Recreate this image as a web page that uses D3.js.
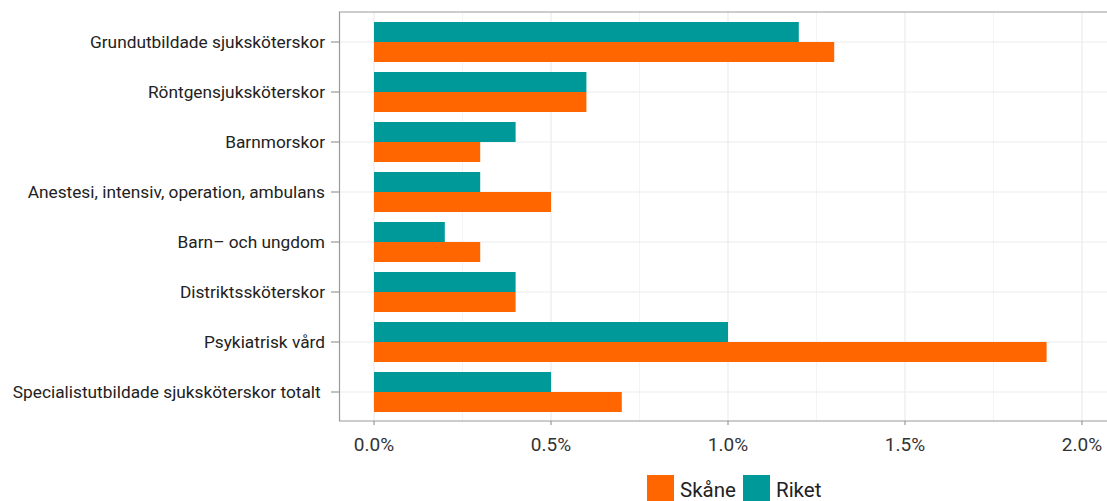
<!DOCTYPE html>
<html><head><meta charset="utf-8">
<script src="https://cdn.jsdelivr.net/npm/d3@7"></script>
<style>body{margin:0;background:#fff;} svg{display:block;}</style>
</head><body><svg id="c" width="1107" height="501"></svg>
<script>
const categories = ["Grundutbildade sjuksköterskor","Röntgensjuksköterskor","Barnmorskor","Anestesi, intensiv, operation, ambulans","Barn– och ungdom","Distriktssköterskor","Psykiatrisk vård","Specialistutbildade sjuksköterskor totalt "];
const skane = [1.3,0.6,0.3,0.5,0.3,0.4,1.9,0.7];
const riket = [1.2,0.6,0.4,0.3,0.2,0.4,1.0,0.5];
const seriesNames = ["Skåne","Riket"];
const xTicks = [0,0.5,1.0,1.5,2.0];
const xMinor = [0.25,0.75,1.25,1.75];
const colors = {"Skåne":"#FF6600","Riket":"#009999"};

(function(){
const svg = d3.select("#c");
const font = "Roboto, 'Liberation Sans', sans-serif";
const pL = 340, pR = 1120, pT = 12, pB = 421;
const x = d3.scaleLinear().domain([0,2]).range([374,1082]);
const yc = d3.scalePoint().domain(categories).range([42,392]);
const bh = 20;

const g = svg.append("g");
g.selectAll(".mv").data(xMinor).enter().append("line")
 .attr("x1",d=>x(d)).attr("x2",d=>x(d)).attr("y1",pT).attr("y2",pB)
 .attr("stroke","#f4f4f4").attr("stroke-width",1);
g.selectAll(".gv").data(xTicks).enter().append("line")
 .attr("x1",d=>x(d)).attr("x2",d=>x(d)).attr("y1",pT).attr("y2",pB)
 .attr("stroke","#ebebeb").attr("stroke-width",1.2);
g.selectAll(".gh").data(categories).enter().append("line")
 .attr("x1",pL).attr("x2",pR).attr("y1",d=>yc(d)).attr("y2",d=>yc(d))
 .attr("stroke","#ebebeb").attr("stroke-width",1.2);

const rows = categories.map((c,i)=>({c,skane:skane[i],riket:riket[i]}));
g.selectAll(".br").data(rows).enter().append("rect")
 .attr("x",x(0)).attr("y",d=>yc(d.c)-bh).attr("height",bh)
 .attr("width",d=>x(d.riket)-x(0)).attr("fill",colors["Riket"]);
g.selectAll(".bs").data(rows).enter().append("rect")
 .attr("x",x(0)).attr("y",d=>yc(d.c)).attr("height",bh)
 .attr("width",d=>x(d.skane)-x(0)).attr("fill",colors["Skåne"]);

svg.append("path").attr("d",`M${pR},${pT}H${pL-0.5}V${pB}H${pR}`)
 .attr("fill","none").attr("stroke","#999").attr("stroke-width",1.2);

const xa = svg.append("g");
xa.selectAll("line").data(xTicks).enter().append("line")
 .attr("x1",d=>x(d)).attr("x2",d=>x(d)).attr("y1",pB).attr("y2",pB+4)
 .attr("stroke","#999").attr("stroke-width",1.2);
xa.selectAll("text").data(xTicks).enter().append("text")
 .attr("x",d=>x(d)).attr("y",451).attr("text-anchor","middle")
 .attr("font-family",font).attr("font-size",19).attr("fill","#333")
 .text(d=>d3.format(".1f")(d)+"%");

const ya = svg.append("g");
ya.selectAll("line").data(categories).enter().append("line")
 .attr("x1",331).attr("x2",339).attr("y1",d=>yc(d)).attr("y2",d=>yc(d))
 .attr("stroke","#999").attr("stroke-width",1.2);
ya.selectAll("text").data(categories).enter().append("text")
 .attr("x",325).attr("y",d=>yc(d)).attr("dy","0.36em").attr("text-anchor","end")
 .attr("font-family",font).attr("font-size",17.3).attr("fill","#222")
 .style("white-space","pre").text(d=>d);

const lg = svg.append("g");
const legX = [647,743];
seriesNames.forEach((s,i)=>{
  lg.append("rect").attr("x",legX[i]).attr("y",475).attr("width",27).attr("height",27).attr("fill",colors[s]);
  lg.append("text").attr("x",legX[i]+33).attr("y",497).attr("font-family",font).attr("font-size",20.5).attr("fill","#222").text(s);
});
})();
</script></body></html>
